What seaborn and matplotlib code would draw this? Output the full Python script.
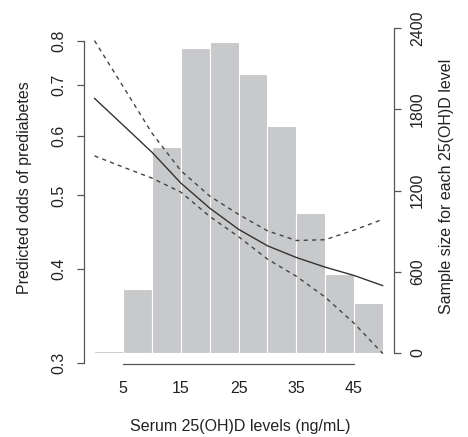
import matplotlib
matplotlib.use("Agg")
import matplotlib.pyplot as plt
from matplotlib.ticker import NullLocator
import seaborn as sns

# histogram of 25(OH)D levels (right axis)
bin_edges = [0, 5, 10, 15, 20, 25, 30, 35, 40, 45, 50]
bin_mids = [2.5, 7.5, 12.5, 17.5, 22.5, 27.5, 32.5, 37.5, 42.5, 47.5]
sample_counts = [14, 470, 1519, 2250, 2299, 2060, 1678, 1032, 581, 367]

# predicted odds curve with 95% band (left axis, log scale)
vitd = [0, 5, 10, 15, 20, 25, 30, 35, 40, 45, 50]
odds_fit = [0.672, 0.619, 0.570, 0.519, 0.481, 0.451, 0.429, 0.414, 0.402, 0.392, 0.380]
odds_upper = [0.801, 0.696, 0.604, 0.539, 0.499, 0.472, 0.449, 0.436, 0.437, 0.450, 0.465]
odds_lower = [0.564, 0.545, 0.527, 0.505, 0.469, 0.441, 0.412, 0.391, 0.367, 0.339, 0.309]

left_ticks = [0.3, 0.4, 0.5, 0.6, 0.7, 0.8]
right_ticks = [0, 600, 1200, 1800, 2400]
x_ticks = [5, 15, 25, 35, 45]

sns.set_theme(style="white")
plt.rcParams['font.family'] = ['Liberation Sans', 'DejaVu Sans']
FS = 11.5
TXT = '#222222'
AX = '#555555'

W, H = 468, 437
fig = plt.figure(figsize=(W / 100, H / 100), dpi=100)
ax_bar = fig.add_axes([83.5 / W, (H - 364) / H, 310 / W, 338 / H])

sns.histplot(x=bin_mids, weights=sample_counts, bins=bin_edges, color='#c8c9cb',
             edgecolor='white', linewidth=0.8, alpha=1, ax=ax_bar)
ax_bar.set_xlim(-1.9, 51.85)
ax_bar.set_ylim(-81, 2415)
ax_bar.set_xlabel('')
ax_bar.set_ylabel('')

ax_line = ax_bar.twinx()
sns.lineplot(x=vitd, y=odds_fit, color='#333333', lw=1.0, ax=ax_line)
sns.lineplot(x=vitd, y=odds_upper, color='#444444', lw=1.0, linestyle=(0, (3, 3)), ax=ax_line)
sns.lineplot(x=vitd, y=odds_lower, color='#444444', lw=1.0, linestyle=(0, (3, 3)), ax=ax_line)
ax_line.set_yscale('log')
ax_line.set_ylim(0.2994, 0.8374)
ax_line.set_yticks(left_ticks)
ax_line.set_yticklabels([f'{t:.1f}' for t in left_ticks])
ax_line.yaxis.set_minor_locator(NullLocator())
ax_line.set_xlabel('')
ax_line.set_ylabel('')

# axis sides: odds on left, counts on right
ax_line.yaxis.tick_left()
ax_bar.yaxis.tick_right()
ax_bar.set_yticks(right_ticks)
ax_bar.set_xticks(x_ticks)

for sp in ['top', 'left']:
    ax_bar.spines[sp].set_visible(False)
for sp in ['top', 'right', 'bottom']:
    ax_line.spines[sp].set_visible(False)
ax_bar.spines['right'].set_bounds(0, 2400)
ax_bar.spines['bottom'].set_bounds(5, 45)
ax_line.spines['left'].set_bounds(0.3, 0.8)
for sp in [ax_bar.spines['right'], ax_bar.spines['bottom'], ax_line.spines['left']]:
    sp.set_color(AX)
    sp.set_linewidth(0.9)

ax_bar.tick_params(axis='x', length=6.5, width=0.9, color=AX, labelsize=FS, labelcolor=TXT, pad=6)
ax_bar.tick_params(axis='y', right=True, left=False, length=5, width=0.9, color=AX,
                   labelsize=FS, labelcolor=TXT, labelrotation=90, pad=7)
ax_line.tick_params(axis='y', left=True, right=False, length=5, width=0.9, color=AX,
                    labelsize=FS, labelcolor=TXT, labelrotation=90, pad=7)
for lab in ax_bar.get_yticklabels() + ax_line.get_yticklabels():
    lab.set_va('center')

fig.text(25 / W, 1 - 188 / H, 'Predicted odds of prediabetes', rotation=90,
         ha='center', va='center', fontsize=FS, color=TXT)
fig.text(446 / W, 1 - 186 / H, 'Sample size for each 25(OH)D level', rotation=90,
         ha='center', va='center', fontsize=FS, color=TXT)
fig.text(240 / W, 1 - 427 / H, 'Serum 25(OH)D levels (ng/mL)',
         ha='center', va='center', fontsize=FS, color=TXT)

fig.savefig('out.png', dpi=100)
